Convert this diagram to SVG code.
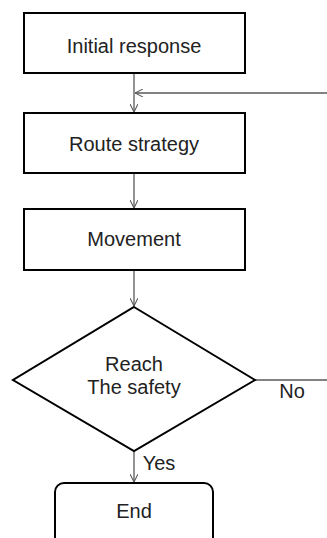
<svg xmlns="http://www.w3.org/2000/svg" width="327" height="538" viewBox="0 0 327 538">
<style>
.box{fill:#fff;stroke:#000;stroke-width:2}
.lbl{font-family:"Liberation Sans",Arial,sans-serif;font-size:20px;fill:#222;text-anchor:middle}
.con{fill:none;stroke:#595959;stroke-width:1.3}
.head{fill:none;stroke:#595959;stroke-width:1.3}
</style>
<defs>
<marker id="arr" viewBox="0 0 10 10" refX="10" refY="5" markerWidth="8" markerHeight="8" markerUnits="userSpaceOnUse" orient="auto">
<path d="M0,0 L10,5 L0,10" class="head"/>
</marker>
</defs>
<rect width="327" height="538" fill="#fff"/>
<g id="connectors">
<line class="con" x1="134" y1="73" x2="134" y2="112" marker-end="url(#arr)"/>
<line class="con" x1="327" y1="93" x2="135" y2="93" marker-end="url(#arr)"/>
<line class="con" x1="134" y1="173" x2="134" y2="208" marker-end="url(#arr)"/>
<line class="con" x1="134" y1="270" x2="134" y2="306" marker-end="url(#arr)"/>
<line class="con" x1="255" y1="380" x2="327" y2="380"/>
<line class="con" x1="134" y1="451" x2="134" y2="482" marker-end="url(#arr)"/>
<text class="lbl" x="292" y="398">No</text>
<text class="lbl" x="159" y="470">Yes</text>
</g>
<g id="n1">
<rect class="box" x="24" y="13" width="221" height="60"/>
<text class="lbl" x="134" y="53">Initial response</text>
</g>
<g id="n2">
<rect class="box" x="24" y="113" width="221" height="60"/>
<text class="lbl" x="134" y="151">Route strategy</text>
</g>
<g id="n3">
<rect class="box" x="24" y="209" width="221" height="61"/>
<text class="lbl" x="134" y="246">Movement</text>
</g>
<g id="n4">
<polygon class="box" points="134,307 255,380 134,451 13,380"/>
<text class="lbl" x="134" y="371">Reach</text>
<text class="lbl" x="134" y="394">The safety</text>
</g>
<g id="n5">
<rect class="box" x="55" y="483" width="158" height="70" rx="9"/>
<text class="lbl" x="134" y="518">End</text>
</g>
</svg>
